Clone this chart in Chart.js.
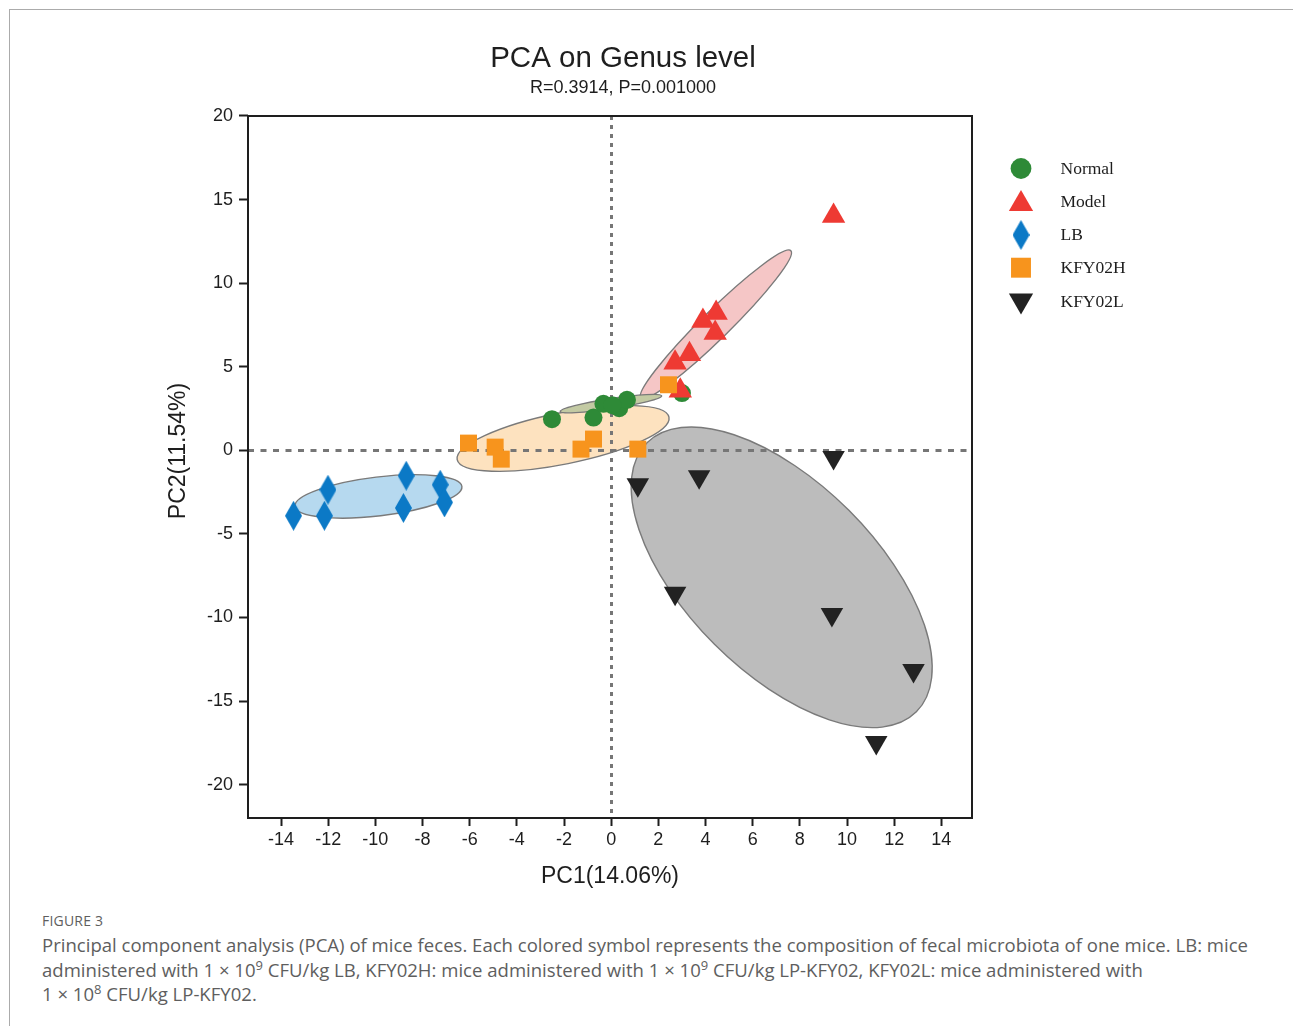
<!DOCTYPE html>
<html>
<head>
<meta charset="utf-8">
<script src="https://cdn.jsdelivr.net/npm/chart.js@4/dist/chart.umd.min.js"></script>
<style>
  html, body { margin:0; padding:0; background:#fff; width:1293px; height:1026px; overflow:hidden; }
  #frame { position:absolute; left:9px; top:9px; width:1400px; height:1100px; border-top:1.5px solid #ababab; border-left:1.5px solid #ababab; }
  #c { position:absolute; left:0; top:0; }
  #figlabel { position:absolute; left:42px; top:911px; font-family:"Open Sans","Noto Sans",sans-serif; font-size:14px; color:#5e5e5e; letter-spacing:0.2px; }
  #caption { position:absolute; left:42px; top:933px; font-family:"Open Sans","Noto Sans",sans-serif; font-size:18px; line-height:24.5px; color:#5e5e5e; white-space:nowrap; display:inline-block; transform-origin:0 0; }
  #caption sup { font-size:0.7em; line-height:0; vertical-align:0.55em; }
</style>
</head>
<body>
<div id="frame"></div>
<canvas id="c" width="1246" height="900"></canvas>
<div id="figlabel">FIGURE 3</div>
<div id="caption">Principal component analysis (PCA) of mice feces. Each colored symbol represents the composition of fecal microbiota of one mice. LB: mice<br>administered with 1 × 10<sup>9</sup> CFU/kg LB, KFY02H: mice administered with 1 × 10<sup>9</sup> CFU/kg LP-KFY02, KFY02L: mice administered with<br>1 × 10<sup>8</sup> CFU/kg LP-KFY02.</div>
<script>
// ---- data ----
const groupNames = ['Normal', 'Model', 'LB', 'KFY02H', 'KFY02L'];

const normalPC1 = [-2.51, -0.75, -0.33, 0.34, 0.67, 3.00, 0.05];
const normalPC2 = [1.86, 1.96, 2.78, 2.52, 3.02, 3.42, 2.70];

const modelPC1 = [9.43, 4.45, 3.89, 4.41, 3.32, 2.71, 2.93];
const modelPC2 = [14.02, 8.22, 7.74, 7.02, 5.74, 5.23, 3.56];

const lbPC1 = [-13.47, -12.01, -12.16, -8.69, -8.81, -7.25, -7.07];
const lbPC2 = [-3.92, -2.36, -3.92, -1.52, -3.45, -2.06, -3.12];

const kfy02hPC1 = [-6.05, -4.92, -4.66, -1.28, -0.75, 1.13, 2.43];
const kfy02hPC2 = [0.43, 0.19, -0.53, 0.07, 0.67, 0.07, 3.92];

const kfy02lPC1 = [9.43, 3.73, 1.13, 2.71, 9.36, 12.82, 11.24];
const kfy02lPC2 = [-0.43, -1.58, -2.06, -8.55, -9.83, -13.18, -17.48];

// confidence ellipses: [centre PC1, centre PC2, axis1 dPC1, axis1 dPC2, axis2 dPC1, axis2 dPC2]
const kfy02lEllipse = [7.23, -7.60, 5.71, -8.05, 2.85, 4.01];
const lbEllipse     = [-9.87, -2.76, 3.54, 0.595, 0.098, -1.154];
const kfy02hEllipse = [-2.04, 0.71, 4.49, 1.27, 0.215, -1.506];
const modelEllipse  = [4.44, 7.53, 3.18, 4.41, 0.416, -0.598];
const normalEllipse = [-0.01, 2.79, 2.15, 0.466, 0.032, -0.295];

const xTicks = [-14, -12, -10, -8, -6, -4, -2, 0, 2, 4, 6, 8, 10, 12, 14];
const yTicks = [20, 15, 10, 5, 0, -5, -10, -15, -20];

// ---- styles ----
const colNormal = '#2e8a37', colModel = '#ee3a33', colLB = '#0b79c6', colH = '#f7941d', colL = '#222222';

function pts(xs, ys) { return xs.map((x, i) => ({x: x, y: ys[i]})); }

// tall diamond marker
function makeDiamond(w, h, color) {
  const cv = document.createElement('canvas');
  cv.width = w; cv.height = h;
  const g = cv.getContext('2d');
  g.fillStyle = color;
  g.beginPath();
  g.moveTo(w / 2, 0); g.lineTo(w, h / 2); g.lineTo(w / 2, h); g.lineTo(0, h / 2); g.closePath();
  g.fill();
  return cv;
}
const diamond = makeDiamond(17, 30, colLB);

const ellipseList = [
  {p: kfy02lEllipse, fill: '#bcbcbc'},
  {p: lbEllipse, fill: '#b6d9ef'},
  {p: kfy02hEllipse, fill: '#fde2bf'},
  {p: modelEllipse, fill: '#f5c6c6'},
  {p: normalEllipse, fill: '#c3caa3'}
];

const ellipsePlugin = {
  id: 'ellipses',
  beforeDraw(chart) {
    const {ctx, scales: {x, y}} = chart;
    ellipseList.forEach(e => {
      const p = e.p;
      const cx = x.getPixelForValue(p[0]), cy = y.getPixelForValue(p[1]);
      const ax = x.getPixelForValue(p[0] + p[2]) - cx, ay = y.getPixelForValue(p[1] + p[3]) - cy;
      const bx = x.getPixelForValue(p[0] + p[4]) - cx, by = y.getPixelForValue(p[1] + p[5]) - cy;
      ctx.save();
      ctx.save();
      ctx.transform(ax, ay, bx, by, cx, cy);
      ctx.beginPath();
      ctx.arc(0, 0, 1, 0, Math.PI * 2);
      ctx.restore();
      ctx.fillStyle = e.fill;
      ctx.fill();
      ctx.lineWidth = 1.4;
      ctx.strokeStyle = '#7a7a7a';
      ctx.stroke();
      ctx.restore();
    });
  }
};

const decorPlugin = {
  id: 'decor',
  afterDraw(chart) {
    const {ctx, chartArea: a} = chart;
    ctx.save();
    // plot frame
    ctx.lineWidth = 2;
    ctx.strokeStyle = '#1e1e1e';
    ctx.strokeRect(a.left, a.top, a.right - a.left, a.bottom - a.top);
    // y-axis title
    ctx.fillStyle = '#1e1e1e';
    ctx.font = '23px "Liberation Sans", Arial, sans-serif';
    ctx.textAlign = 'center';
    ctx.textBaseline = 'middle';
    ctx.translate(179, 451);
    ctx.rotate(-Math.PI / 2);
    ctx.fillText('PC2(11.54%)', 0, 0);
    ctx.restore();

    // legend
    ctx.save();
    const legendMarkers = [
      {style: 'circle', r: 10.4, rot: 0, color: colNormal, y: 168.5},
      {style: 'triangle', r: 14, rot: 0, color: colModel, y: 204},
      {style: diamond, r: 10, rot: 0, color: colLB, y: 235},
      {style: 'rect', r: 14.1, rot: 0, color: colH, y: 267.7},
      {style: 'triangle', r: 14, rot: 180, color: colL, y: 300.5}
    ];
    ctx.font = '17.5px "Liberation Serif", "Times New Roman", serif';
    ctx.textAlign = 'left';
    ctx.textBaseline = 'middle';
    groupNames.forEach((name, i) => {
      const m = legendMarkers[i];
      ctx.fillStyle = m.color;
      Chart.helpers.drawPoint(ctx, {pointStyle: m.style, radius: m.r, rotation: m.rot, borderWidth: 0}, 1021, m.y);
      ctx.fillStyle = '#1e1e1e';
      ctx.fillText(name, 1060.5, [169.5, 202, 235.5, 268, 302][i]);
    });
    ctx.restore();
  }
};

const tickFont = {family: '"Liberation Sans", Arial, sans-serif', size: 18};

new Chart(document.getElementById('c'), {
  type: 'scatter',
  data: {
    datasets: [
      {label: groupNames[0], data: pts(normalPC1, normalPC2), pointStyle: 'circle', pointRadius: 9, backgroundColor: colNormal, borderWidth: 0, order: 5},
      {label: groupNames[1], data: pts(modelPC1, modelPC2), pointStyle: 'triangle', pointRadius: 13.5, backgroundColor: colModel, borderWidth: 0, order: 4},
      {label: groupNames[2], data: pts(lbPC1, lbPC2), pointStyle: diamond, pointRadius: 10, backgroundColor: colLB, borderWidth: 0, order: 3},
      {label: groupNames[3], data: pts(kfy02hPC1, kfy02hPC2), pointStyle: 'rect', pointRadius: 12, backgroundColor: colH, borderWidth: 0, order: 2},
      {label: groupNames[4], data: pts(kfy02lPC1, kfy02lPC2), pointStyle: 'triangle', rotation: 180, pointRotation: 180, pointRadius: 13, backgroundColor: colL, borderWidth: 0, order: 1}
    ]
  },
  options: {
    responsive: false,
    animation: false,
    events: [],
    layout: {padding: 0},
    plugins: {
      legend: {display: false},
      tooltip: {enabled: false},
      title: {
        display: true,
        text: 'PCA on Genus level',
        color: '#1e1e1e',
        font: {family: '"Liberation Sans", Arial, sans-serif', size: 29.5, weight: 'normal', lineHeight: 1.2},
        padding: {top: 41, bottom: 1.3}
      },
      subtitle: {
        display: true,
        text: 'R=0.3914, P=0.001000',
        color: '#1e1e1e',
        font: {family: '"Liberation Sans", Arial, sans-serif', size: 18, weight: 'normal', lineHeight: 1.2},
        padding: {top: 0, bottom: 16.7}
      }
    },
    scales: {
      x: {
        type: 'linear',
        min: -15.4,
        max: 15.3,
        afterBuildTicks: (s) => { s.ticks = xTicks.map(v => ({value: v})); },
        afterFit: (s) => { s.height = 82; },
        border: {display: false, dash: [4, 5]},
        grid: {
          color: (c) => (c.tick && c.tick.value === 0) ? '#767676' : 'rgba(0,0,0,0)',
          lineWidth: 3,
          drawTicks: true,
          tickLength: 8,
          tickWidth: 2,
          tickColor: '#1e1e1e',
          tickBorderDash: []
        },
        ticks: {color: '#1e1e1e', font: tickFont, padding: 3, autoSkip: false, maxRotation: 0},
        title: {display: true, text: 'PC1(14.06%)', color: '#1e1e1e', font: {family: '"Liberation Sans", Arial, sans-serif', size: 23}, padding: {top: 0, bottom: 10}}
      },
      y: {
        type: 'linear',
        position: 'left',
        min: -22,
        max: 20,
        afterBuildTicks: (s) => { s.ticks = yTicks.map(v => ({value: v})); },
        afterFit: (s) => { s.width = 248; },
        border: {display: false, dash: [6, 6.5]},
        grid: {
          color: (c) => (c.tick && c.tick.value === 0) ? '#767676' : 'rgba(0,0,0,0)',
          lineWidth: 3,
          drawTicks: true,
          tickLength: 9,
          tickWidth: 2,
          tickColor: '#1e1e1e',
          tickBorderDash: []
        },
        ticks: {color: '#1e1e1e', font: tickFont, padding: 6, autoSkip: false}
      },
      legendSpace: {
        type: 'linear',
        axis: 'y',
        position: 'right',
        display: true,
        min: 0,
        max: 1,
        afterFit: (s) => { s.width = 274; },
        border: {display: false},
        grid: {display: false, drawTicks: false},
        ticks: {display: false}
      }
    }
  },
  plugins: [ellipsePlugin, decorPlugin]
});

// fit caption width to the reference column
(function () {
  const cap = document.getElementById('caption');
  const w = cap.getBoundingClientRect().width;
  if (w > 0) cap.style.transform = 'scaleX(' + (1206 / w) + ')';
})();
</script>
</body>
</html>
